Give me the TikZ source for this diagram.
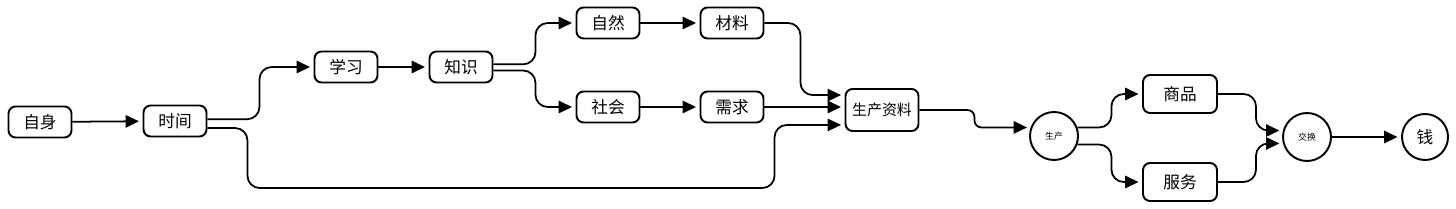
\documentclass[tikz,border=0pt]{standalone}
\usepackage{fontspec}
\setmainfont{Noto Sans CJK SC}
\usetikzlibrary{arrows.meta, positioning}

\begin{document}
\begin{tikzpicture}[x=0.02cm, y=-0.02cm,
    box/.style={rectangle, draw, line width=1.1pt, rounded corners=4pt, minimum width=1.26cm, minimum height=0.62cm, inner sep=1pt, font=\fontsize{9.5}{11}\selectfont},
    circ/.style={circle, draw, line width=1.1pt, minimum size=0.96cm, inner sep=0pt},
    flow/.style={-{Triangle[length=7.6pt, width=7pt]}, line width=1pt, rounded corners=7pt, shorten >=2pt}]
    \useasboundingbox (0,0) rectangle (1456,209);

    \node (self) [box] at (40,122) {自身};
    \node (time) [box] at (175,121) {时间};
    \node (learn) [box] at (346,67) {学习};
    \node (know) [box] at (461,67) {知识};
    \node (nature) [box] at (608,23) {自然};
    \node (material) [box] at (732,23) {材料};
    \node (society) [box] at (608,107) {社会};
    \node (demand) [box] at (732,107) {需求};
    \node (means) [box, minimum width=1.46cm, minimum height=0.84cm, font=\fontsize{8.5}{10}\selectfont] at (882,110) {生产资料};
    \node (produce) [circ, font=\fontsize{5}{6}\selectfont] at (1054,136) {生产};
    \node (goods) [box, minimum width=1.48cm, minimum height=0.76cm] at (1180,94) {商品};
    \node (service) [box, minimum width=1.48cm, minimum height=0.76cm] at (1180,182) {服务};
    \node (exchange) [circ, font=\fontsize{5}{6}\selectfont] at (1307,137) {交换};
    \node (money) [circ, minimum size=0.92cm, font=\fontsize{9.5}{11}\selectfont] at (1425,137) {钱};

    \draw [flow] (self) -- (time);
    \draw [flow] ([yshift=1pt]time.east) -- ++(52,0) |- (learn.west);
    \draw [flow] ([yshift=-4pt]time.east) -- ++(40,0) -- ++(0,60) -| ([xshift=-1.4cm, yshift=-8.5pt]means.west) -- ([yshift=-8.5pt]means.west);
    \draw [flow] (learn) -- (know);
    \draw [flow] ([yshift=1.5pt]know.east) -- ++(42,0) |- (nature.west);
    \draw [flow] ([yshift=-2pt]know.east) -- ++(42,0) |- (society.west);
    \draw [flow] (nature) -- (material);
    \draw [flow] (society) -- (demand);
    \draw [flow] (material.east) -- ++(36,0) |- ([yshift=8.5pt]means.west);
    \draw [flow] (demand.east) -- (demand.east -| means.west);
    \draw [flow, rounded corners=4pt] (means.east) -- ++(55,0) |- (produce.160);
    \draw [flow] (produce.20) -- ++(34,0) |- (goods.west);
    \draw [flow] (produce.-20) -- ++(34,0) |- (service.west);
    \draw [flow] (goods.east) -- ++(38,0) |- (exchange.165);
    \draw [flow] (service.east) -- ++(38,0) |- (exchange.195);
    \draw [flow] (exchange) -- (money);
\end{tikzpicture}
\end{document}
